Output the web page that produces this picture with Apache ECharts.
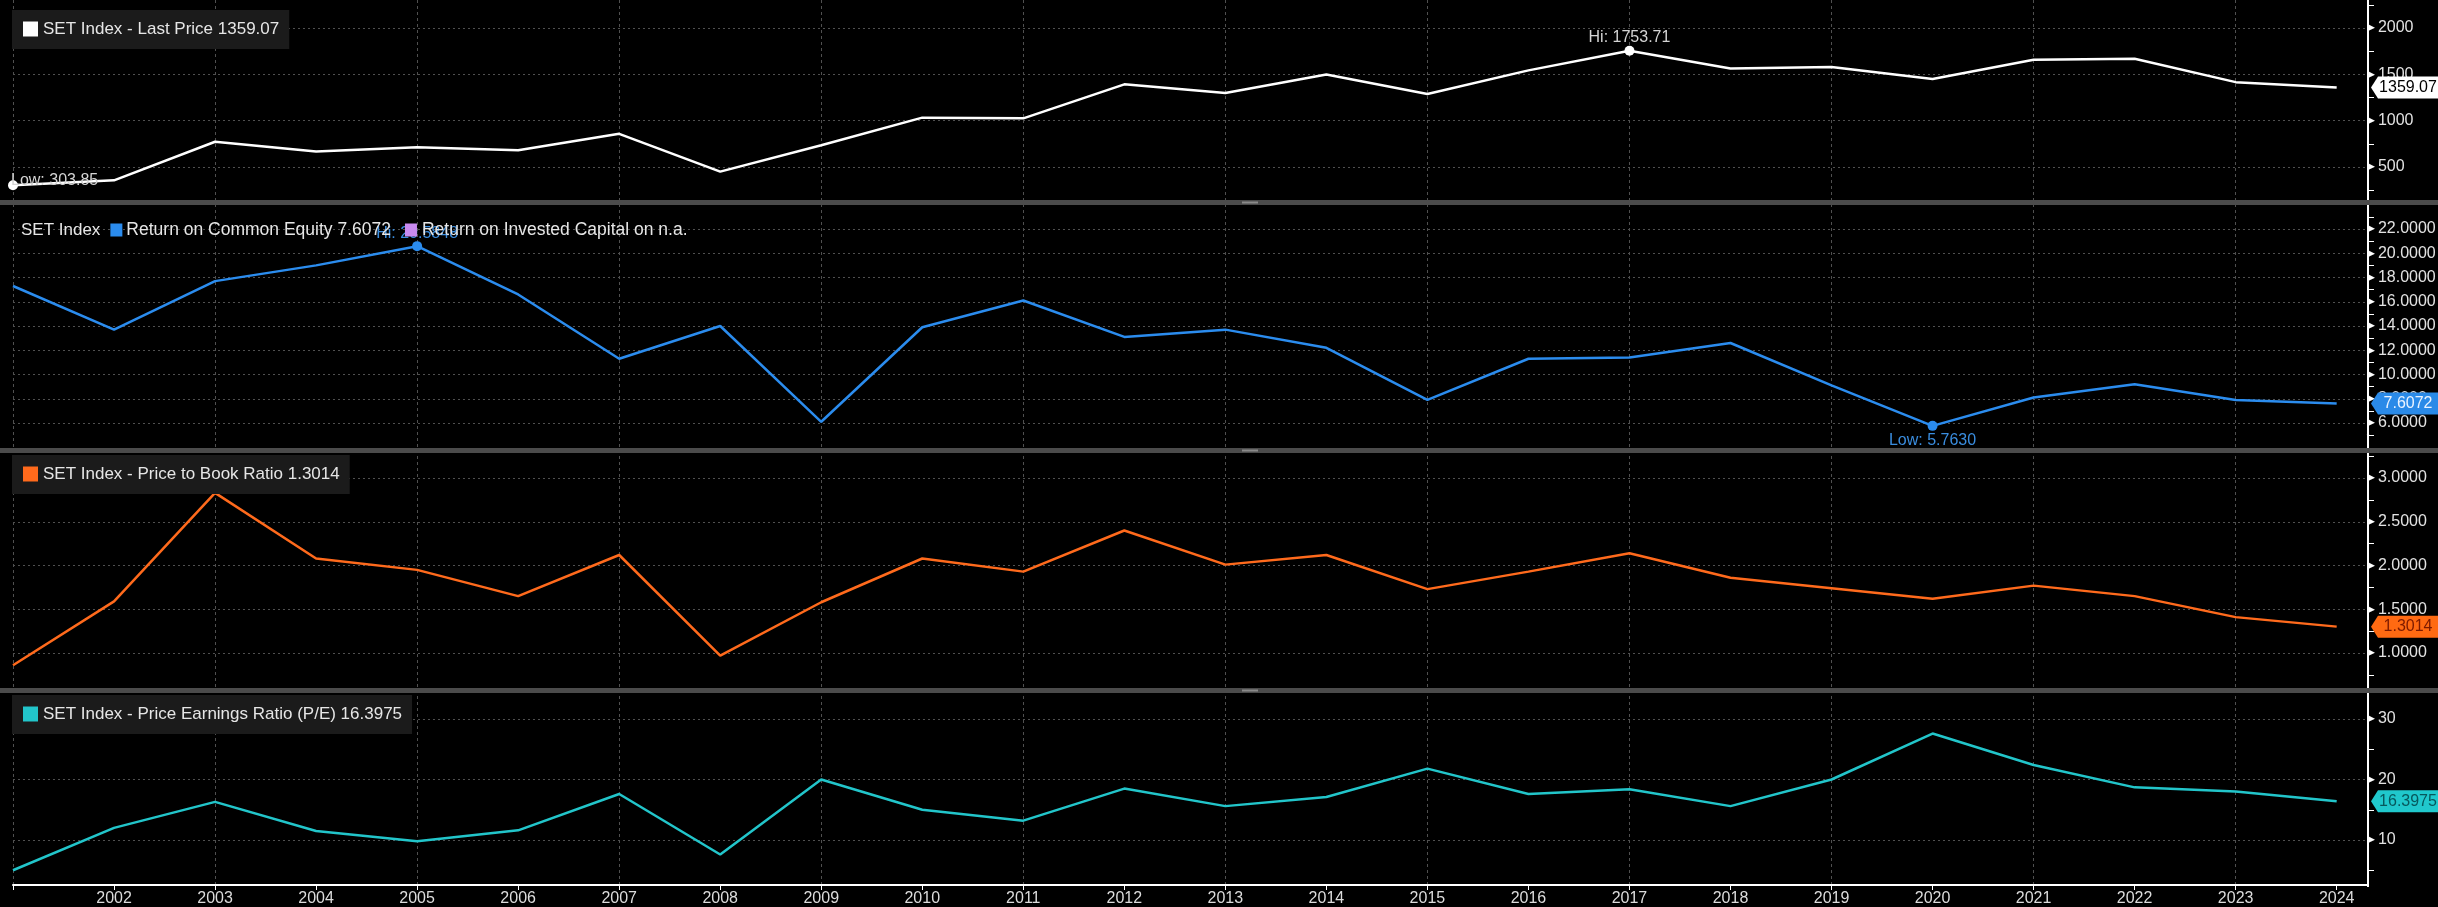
<!DOCTYPE html>
<html><head><meta charset="utf-8">
<script src="https://cdn.jsdelivr.net/npm/echarts@6/dist/echarts.min.js"></script>
<style>html,body{margin:0;padding:0;background:#000;overflow:hidden}#c{width:2438px;height:907px}</style>
</head><body><div id="c"></div>
<script>
const years = [2001,2002,2003,2004,2005,2006,2007,2008,2009,2010,2011,2012,2013,2014,2015,2016,2017,2018,2019,2020,2021,2022,2023,2024];
const lastPrice = [303.85,356.48,772.15,668.10,713.73,679.84,858.10,449.96,734.54,1032.76,1025.32,1391.93,1298.71,1497.67,1288.02,1542.94,1753.71,1563.88,1579.84,1449.35,1657.62,1668.66,1415.85,1359.07];
const roe = [17.3,13.7,17.7,19.0,20.5848,16.6,11.3,14.0,6.1,13.9,16.1,13.1,13.7,12.2,7.9,11.3,11.4,12.6,9.1,5.7630,8.1,9.2,7.9,7.6072];
const pb = [0.86,1.59,2.83,2.08,1.95,1.65,2.12,0.97,1.58,2.08,1.93,2.40,2.01,2.12,1.73,1.93,2.14,1.86,1.74,1.62,1.77,1.65,1.41,1.3014];
const pe = [5.0,12.0,16.3,11.5,9.8,11.6,17.6,7.6,20.0,15.0,13.2,18.5,15.6,17.1,21.8,17.6,18.4,15.6,20.0,27.6,22.4,18.7,18.0,16.3975];
const priceTicks = [500,1000,1500,2000];
const roeTicks = [6,8,10,12,14,16,18,20,22];
const pbTicks = [1.0,1.5,2.0,2.5,3.0];
const peTicks = [10,20,30];
const legendTitles = ['SET Index - Last Price','Return on Common Equity','SET Index - Price to Book Ratio','SET Index - Price Earnings Ratio (P/E)'];

const FONT = 'Liberation Sans, Arial, sans-serif';
const GRIDC = '#505050';
const TR = 'rgba(0,0,0,0)';
const X_MIN = 2001, X_MAX = 2024.31;
const last = a => a[a.length-1];

const panels = [
  {data:lastPrice, ticks:priceTicks, color:'#ffffff', top:-18.33, height:231.67, min:0, max:2500, interval:500, dec:0, tagDec:2, tagBg:'#ffffff', tagFg:'#000000', hl:true, hlColor:'#d4d4d4', hlDec:2},
  {data:roe, ticks:roeTicks, color:'#2b8cee', top:204.75, height:242.5, min:4, max:24, interval:2, dec:4, tagDec:4, tagBg:'#2a8ae8', tagFg:'#eaf3ff', hl:true, hlColor:'#3a8ddf', hlDec:4},
  {data:pb, ticks:pbTicks, color:'#ff6a1c', top:434.25, height:262.5, min:0.5, max:3.5, interval:0.5, dec:4, tagDec:4, tagBg:'#ff6a12', tagFg:'#7c1a00'},
  {data:pe, ticks:peTicks, color:'#22c5ca', top:658.5, height:242, min:0, max:40, interval:10, dec:0, tagDec:4, tagBg:'#20c8cc', tagFg:'#07585c'}
];

const grids = [], xAxes = [], yAxes = [], series = [];
panels.forEach((p, i) => {
  grids.push({left:13, right:70, top:p.top, height:p.height, containLabel:false, outerBoundsMode:'none'});
  xAxes.push({type:'value', gridIndex:i, min:X_MIN, max:X_MAX, interval:1,
    show: i === 3, offset: i === 3 ? -15.5 : 0,
    axisLine:{show:i===3, lineStyle:{color:'#ffffff', width:2}},
    axisTick:{show:i===3, length:5, lineStyle:{color:'#ffffff'}},
    axisLabel:{show:i===3, margin:6, color:'#dcdcdc', fontSize:16, fontFamily:FONT,
      formatter: v => (Math.abs(v - Math.round(v)) < 1e-6 && years.indexOf(Math.round(v)) > 0) ? String(Math.round(v)) : ''},
    splitLine:{show:false}});
  const nT = Math.round((p.max - p.min) / p.interval) + 1;
  const cols = [];
  for (let k = 0; k < nT; k++) {
    const v = p.min + k * p.interval;
    cols.push(p.ticks.some(t => Math.abs(t - v) < 1e-6) ? GRIDC : TR);
  }
  yAxes.push({type:'value', gridIndex:i, position:'right', min:p.min, max:p.max, interval:p.interval,
    axisLine:{show:true, lineStyle:{color:'#ffffff', width:2}},
    axisTick:{show:false},
    minorTick:{show:true, splitNumber:2, length:6, lineStyle:{color:'#ffffff', width:1}},
    splitLine:{show:true, lineStyle:{color:cols, type:[2,3], width:1}},
    axisLabel:{margin:0, color:'#e2e2e2', fontSize:16, fontFamily:FONT,
      rich:{t:{fontSize:9, color:'#ffffff', fontFamily:'DejaVu Sans', padding:[0,3,0,0]}},
      formatter: v => p.ticks.some(t => Math.abs(t - v) < 1e-6) ? '{t|\u25B6}' + v.toFixed(p.dec) : ''}});
  const mp = [{
    coord:[X_MAX, last(p.data)], symbol:'path://M0,11 L7,0 L68,0 L68,22 L7,22 Z', symbolSize:[68,22],
    symbolKeepAspect:false, symbolOffset:[37,0], itemStyle:{color:p.tagBg},
    label:{show:true, position:'inside', offset:[3,0], color:p.tagFg, fontSize:16, fontFamily:FONT,
      formatter: () => last(p.data).toFixed(p.tagDec)}
  }];
  if (p.hl) {
    mp.push({type:'max', valueDim:'y', symbol:'circle', symbolSize:10, itemStyle:{color:p.color},
      label:{show:true, position:'top', distance:0, color:p.hlColor, fontSize:16, fontFamily:FONT,
        formatter: q => 'Hi: ' + Number(q.value).toFixed(p.hlDec)}});
    mp.push({type:'min', valueDim:'y', symbol:'circle', symbolSize:10, itemStyle:{color:p.color},
      label:{show:true, position: i === 0 ? 'right' : 'bottom', distance: i === 0 ? 5 : 2, offset: i === 0 ? [-12,-5] : [0,0],
        color:p.hlColor, fontSize:16, fontFamily:FONT,
        formatter: q => 'Low: ' + Number(q.value).toFixed(p.hlDec)}});
  }
  series.push({type:'line', xAxisIndex:i, yAxisIndex:i, data: years.map((y, k) => [y, p.data[k]]),
    symbol:'none', lineStyle:{color:p.color, width:2.5}, itemStyle:{color:p.color},
    markPoint:{data:mp, animation:false}});
});
// grid for vertical gridlines spanning all panels
grids.push({left:13, right:70, top:0, bottom:22, containLabel:false, outerBoundsMode:'none'});
xAxes.push({type:'value', gridIndex:4, min:X_MIN, max:X_MAX, interval:1,
  axisLine:{show:false}, axisTick:{show:false}, axisLabel:{show:false},
  splitLine:{show:true, lineStyle:{color:[GRIDC, TR], type:[3,3], width:1}}});
yAxes.push({type:'value', gridIndex:4, show:false, min:0, max:1});

const TXT = {color:'#e6e6e6', fontSize:17, fontFamily:FONT, fontWeight:'normal', lineHeight:18};
const sqStyle = c => ({width:15, height:15, backgroundColor:c});
const boxTitle = (top, color, text) => ({left:12, top:top, backgroundColor:'#1b1b1b', padding:[10,10,11,11],
  text:'{sq|}{t|' + text + '}',
  textStyle:{fontWeight:'normal', rich:{sq:sqStyle(color), t:Object.assign({}, TXT, {padding:[0,0,0,5]})}}});

const option = {
  backgroundColor:'#000000',
  animation:false,
  grid:grids, xAxis:xAxes, yAxis:yAxes, series:series,
  title:[
    boxTitle(10, '#ffffff', legendTitles[0] + ' ' + last(lastPrice).toFixed(2)),
    {left:21, top:221, padding:0,
      text:'{a|SET Index}{s1|}{t|' + legendTitles[1] + ' ' + last(roe).toFixed(4) + '}{s2|}{u|Return on Invested Capital on n.a.}',
      textStyle:{fontWeight:'normal', rich:{
        a:Object.assign({}, TXT, {padding:[0,10,0,0]}),
        s1:{width:12, height:13, backgroundColor:'#2b8cee'},
        s2:{width:12, height:13, backgroundColor:'#c98af0'},
        t:Object.assign({}, TXT, {fontSize:17.5, padding:[0,14,0,4]}),
        u:Object.assign({}, TXT, {fontSize:17.5, padding:[0,0,0,5]})}}},
    boxTitle(455, '#ff6a1c', legendTitles[2] + ' ' + last(pb).toFixed(4)),
    boxTitle(695, '#22c5ca', legendTitles[3] + ' ' + last(pe).toFixed(4))
  ],
  graphic:[
    {type:'rect', z:100, shape:{x:0, y:200, width:2438, height:5}, style:{fill:'#4b4b4b'}},
    {type:'rect', z:100, shape:{x:0, y:448, width:2438, height:5}, style:{fill:'#4b4b4b'}},
    {type:'rect', z:100, shape:{x:0, y:688, width:2438, height:5}, style:{fill:'#4b4b4b'}},
    {type:'rect', z:101, shape:{x:1242, y:201.5, width:16, height:2}, style:{fill:'#8a8a8a'}},
    {type:'rect', z:101, shape:{x:1242, y:449.5, width:16, height:2}, style:{fill:'#8a8a8a'}},
    {type:'rect', z:101, shape:{x:1242, y:689.5, width:16, height:2}, style:{fill:'#8a8a8a'}},
    {type:'rect', z:100, shape:{x:2360, y:887, width:20, height:20}, style:{fill:'#000000'}}
  ]
};
const chart = echarts.init(document.getElementById('c'));
chart.setOption(option);
</script></body></html>
